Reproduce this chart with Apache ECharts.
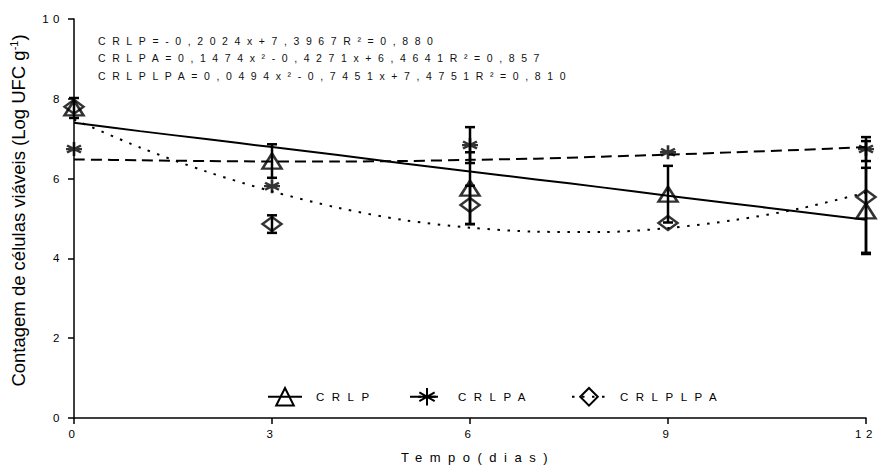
<!DOCTYPE html>
<html>
<head>
<meta charset="utf-8">
<script src="https://cdn.jsdelivr.net/npm/echarts@6/dist/echarts.min.js"></script>
<style>
  html, body { margin: 0; padding: 0; background: #fff; }
  #chart { width: 878px; height: 470px; }
  /* widely tracked lettering, keyed on the fallback family name */
  #chart text[style*="ls-tick"] { letter-spacing: 4.5px; }
  #chart text[style*="ls-eq"] { letter-spacing: 6.6px; }
  #chart text[style*="ls-leg"] { letter-spacing: 7.5px; }
  #chart text[style*="ls-xt"] { letter-spacing: 7.5px; }
</style>
</head>
<body>
<div id="chart"></div>
<script>
// Sampling days and mean counts (Log UFC g-1) with their error half-widths
const days = [0, 3, 6, 9, 12];
const crlp = [7.77, 6.44, 5.76, 5.61, 5.19];
const crlpErr = [0.25, 0.42, 0.9, 0.71, 1.08];
const crlpa = [6.74, 5.81, 6.84, 6.66, 6.74];
const crlpaErr = [0, 0, 0.45, 0, 0.3];
const crlplpa = [7.8, 4.86, 5.34, 4.89, 5.54];
const crlplpaErr = [0, 0.22, 0.48, 0, 1.4];

// Fitted trend curves, sampled once per day
const fitDays = [0, 1, 2, 3, 4, 5, 6, 7, 8, 9, 10, 11, 12];
const crlpFit = [7.40, 7.19, 6.99, 6.79, 6.59, 6.38, 6.18, 5.98, 5.78, 5.57, 5.37, 5.17, 4.97];
const crlpaFit = [6.48, 6.46, 6.44, 6.43, 6.43, 6.44, 6.47, 6.50, 6.55, 6.60, 6.66, 6.72, 6.79];
const crlplpaFit = [7.48, 6.78, 6.18, 5.68, 5.27, 4.96, 4.77, 4.67, 4.66, 4.76, 4.96, 5.25, 5.65];

// Regression equations printed in the plot
const equations = [
  'CRLP=-0,2024x+7,3967R²=0,880',
  'CRLPA=0,1474x²-0,4271x+6,4641R²=0,857',
  'CRLPLPA=0,0494x²-0,7451x+7,4751R²=0,810'
];

const seriesNames = ['CRLP', 'CRLPA', 'CRLPLPA'];

const FONT_Y = "'Liberation Sans'";
const FONT_TICK = "'Liberation Sans', ls-tick";
const FONT_EQ = "'Liberation Sans', ls-eq";
const FONT_LEG = "'Liberation Sans', ls-leg";
const FONT_XT = "'Liberation Sans', ls-xt";

const STAR = 'path://M0,-1L0,1M-0.87,-0.5L0.87,0.5M-0.87,0.5L0.87,-0.5M-1,0L1,0';
const hollow = { color: 'rgba(0,0,0,0)', borderColor: '#000', borderWidth: 2.5 };

const pairs = (xs, ys) => xs.map((x, i) => [x, ys[i]]);
const bars = (ys, es) => days.map((d, i) => [d, ys[i] - es[i], ys[i] + es[i], es[i]]);

const groups = [
  { name: seriesNames[0], mean: crlp, err: crlpErr, fit: crlpFit, symbol: 'triangle', size: [19, 15], line: 'solid' },
  { name: seriesNames[1], mean: crlpa, err: crlpaErr, fit: crlpaFit, symbol: STAR, size: [16, 14], line: [11, 6] },
  { name: seriesNames[2], mean: crlplpa, err: crlplpaErr, fit: crlplpaFit, symbol: 'diamond', size: [19, 14], line: [2.5, 7.5] }
];

function errorBar(params, api) {
  const half = api.value(3);
  if (!half) return null;
  const x = api.value(0);
  const lo = api.coord([x, api.value(1)]);
  const hi = api.coord([x, api.value(2)]);
  const cap = 5;
  const st = { stroke: '#000', lineWidth: 2.5 };
  return {
    type: 'group',
    children: [
      { type: 'line', shape: { x1: lo[0], y1: lo[1], x2: hi[0], y2: hi[1] }, style: st },
      { type: 'line', shape: { x1: lo[0] - cap, y1: lo[1], x2: lo[0] + cap, y2: lo[1] }, style: st },
      { type: 'line', shape: { x1: hi[0] - cap, y1: hi[1], x2: hi[0] + cap, y2: hi[1] }, style: st }
    ]
  };
}

const series = [];
groups.forEach(g => {
  series.push({
    name: g.name,
    type: 'line',
    data: pairs(fitDays, g.fit),
    smooth: 0.3,
    symbol: g.symbol,
    symbolSize: g.size,
    showSymbol: false,
    silent: true,
    itemStyle: hollow,
    lineStyle: { color: '#000', width: 2, type: g.line },
    z: 2
  });
});
groups.forEach(g => {
  series.push({
    name: g.name + ' médias',
    type: 'scatter',
    data: pairs(days, g.mean),
    symbol: g.symbol,
    symbolSize: g.size,
    itemStyle: { color: 'rgba(0,0,0,0)', borderColor: '#000', borderWidth: 2.5 },
    z: 3
  });
  series.push({
    name: g.name + ' erro',
    type: 'custom',
    data: bars(g.mean, g.err),
    renderItem: errorBar,
    z: 4
  });
});

const legendBase = {
  orient: 'horizontal',
  top: 382,
  itemWidth: 34,
  itemHeight: 22,
  selectedMode: false,
  textStyle: { fontFamily: FONT_LEG, fontSize: 11.5, color: '#000', padding: [0, 0, 0, 9] }
};

const chart = echarts.init(document.getElementById('chart'), null, { renderer: 'svg' });
chart.setOption({
  animation: false,
  backgroundColor: '#fff',
  grid: { left: 72, right: 12, top: 19, bottom: 52, containLabel: false },
  legend: [
    Object.assign({}, legendBase, { left: 262, data: [seriesNames[0]] }),
    Object.assign({}, legendBase, { left: 404, data: [seriesNames[1]] }),
    Object.assign({}, legendBase, { left: 566, data: [seriesNames[2]] })
  ],
  xAxis: {
    type: 'value',
    min: 0, max: 12, interval: 3,
    name: 'Tempo(dias)',
    nameLocation: 'middle',
    nameGap: 33,
    nameTextStyle: { fontFamily: FONT_XT, fontSize: 13, color: '#000', padding: [0, 0, 0, 16] },
    axisLine: { lineStyle: { color: '#000', width: 1.5 } },
    axisTick: { show: true, length: 6, lineStyle: { color: '#000', width: 1.5 } },
    axisLabel: { fontFamily: FONT_TICK, fontSize: 11.5, color: '#000', margin: 10 },
    splitLine: { show: false }
  },
  yAxis: {
    type: 'value',
    min: 0, max: 10, interval: 2,
    name: '{a|Contagem de células viáveis (Log UFC g}{s|-1}{a|)}',
    nameLocation: 'middle',
    nameGap: 46,
    nameTextStyle: {
      padding: [0, 0, 0, 16],
      rich: {
        a: { fontFamily: FONT_Y, fontSize: 18.5, color: '#000' },
        s: { fontFamily: FONT_Y, fontSize: 11, color: '#000', verticalAlign: 'top', padding: [0, 0, 9, 0] }
      }
    },
    axisLine: { show: true, lineStyle: { color: '#000', width: 1.5 } },
    axisTick: { show: true, length: 6, lineStyle: { color: '#000', width: 1.5 } },
    axisLabel: { fontFamily: FONT_TICK, fontSize: 11.5, color: '#000', margin: 10 },
    splitLine: { show: false }
  },
  graphic: equations.map((t, i) => ({
    type: 'text',
    left: 98,
    top: 35 + i * 17.5,
    style: { text: t, fontFamily: FONT_EQ, fontSize: 10.5, fill: '#111' },
    silent: true
  })),
  series: series
});
</script>
</body>
</html>
